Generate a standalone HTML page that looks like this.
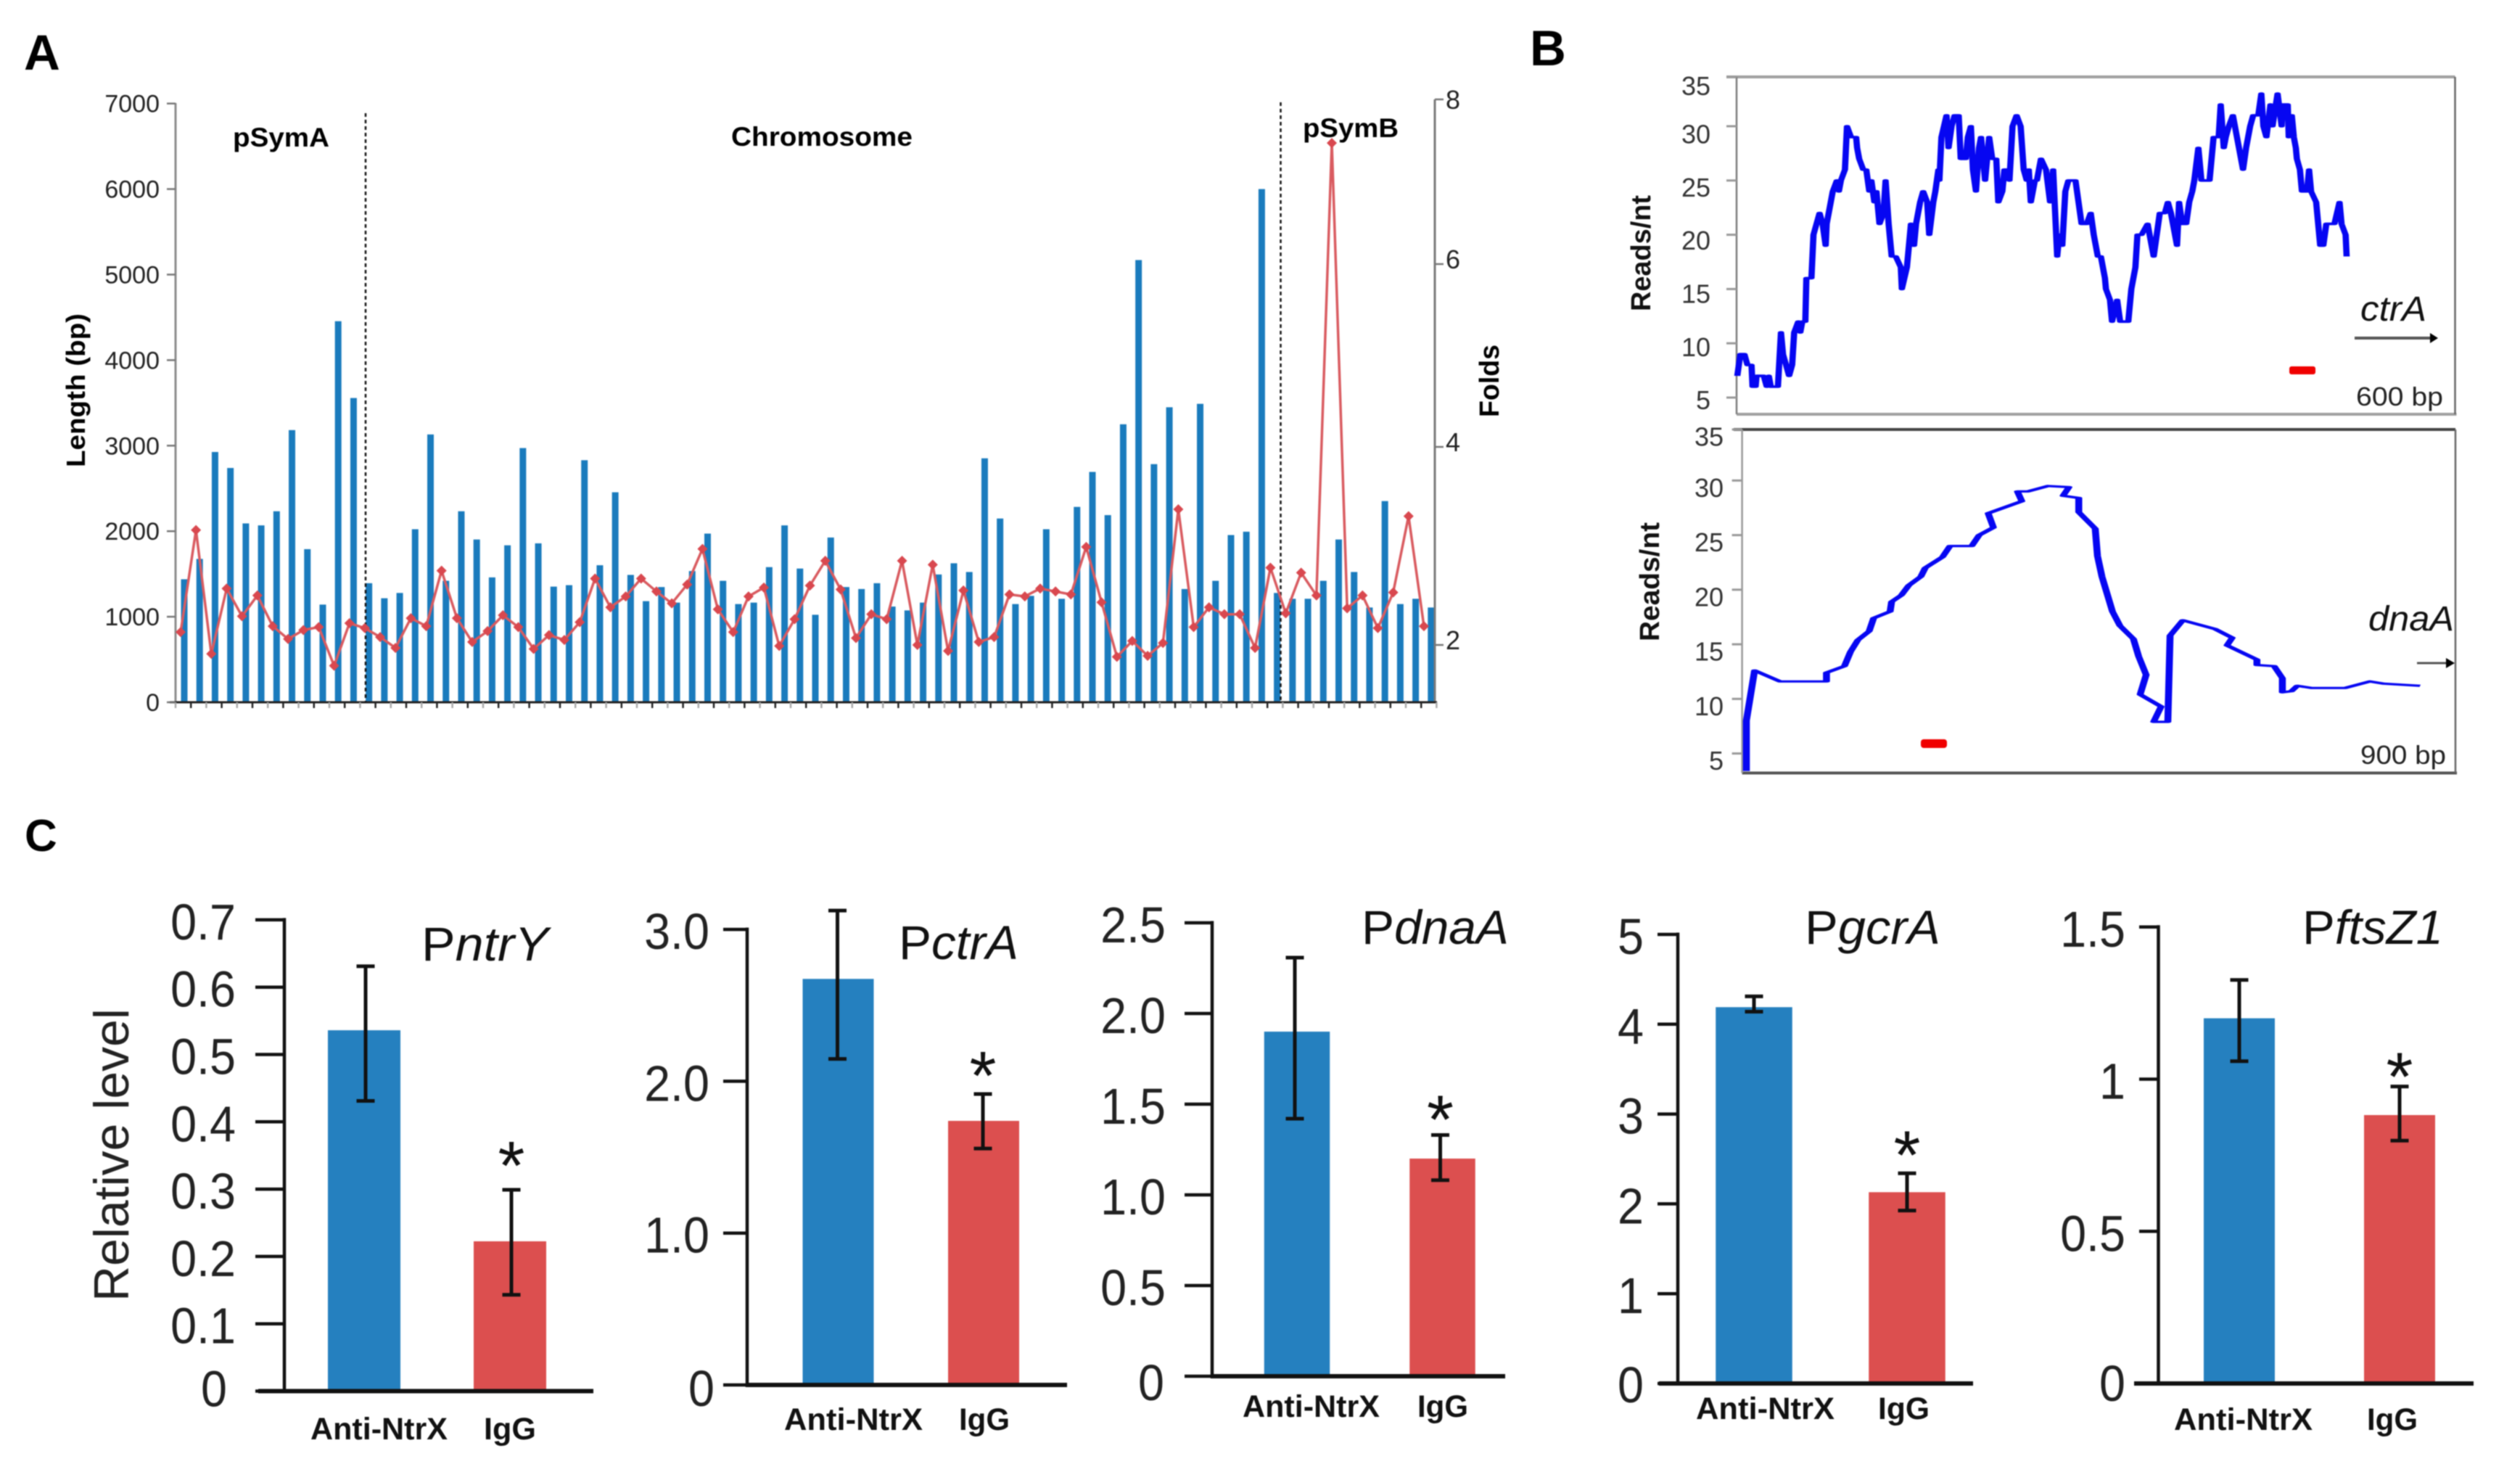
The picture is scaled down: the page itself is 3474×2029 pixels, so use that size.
<!DOCTYPE html>
<html lang="en">
<head>
<meta charset="utf-8">
<title>NtrX binding figure</title>
<style>
html,body{margin:0;padding:0;background:#fff;}
svg{display:block;font-family:"Liberation Sans",sans-serif;filter:blur(0.7px);}
</style>
</head>
<body>
<svg id="fig" width="3474" height="2029" viewBox="0 0 3474 2029">
  <rect x="0" y="0" width="3474" height="2029" fill="#fff"/>

  <!-- Panel letters -->
  <text x="33" y="96" font-size="69" font-weight="bold" fill="#000">A</text>
  <text x="2109" y="90" font-size="69" font-weight="bold" fill="#000">B</text>
  <text x="34" y="1173" font-size="62" font-weight="bold" fill="#000">C</text>

  <!-- Panel A -->
  <g id="panelA"></g>
  <text x="321" y="202" font-size="37" font-weight="bold" textLength="133" lengthAdjust="spacingAndGlyphs" fill="#000">pSymA</text>
  <text x="1008" y="201" font-size="37" font-weight="bold" textLength="250" lengthAdjust="spacingAndGlyphs" fill="#000">Chromosome</text>
  <text x="1796" y="189" font-size="37" font-weight="bold" textLength="132" lengthAdjust="spacingAndGlyphs" fill="#000">pSymB</text>
  <text transform="translate(117,644) rotate(-90)" font-size="36" font-weight="bold" textLength="212" lengthAdjust="spacingAndGlyphs" fill="#000">Length (bp)</text>
  <text transform="translate(2066,575) rotate(-90)" font-size="38" font-weight="bold" textLength="100" lengthAdjust="spacingAndGlyphs" fill="#000">Folds</text>

  <!-- Panel B -->
  <g id="panelB"></g>
  <text transform="translate(2275,429) rotate(-90)" font-size="38" font-weight="bold" textLength="160" lengthAdjust="spacingAndGlyphs" fill="#111">Reads/nt</text>
  <text transform="translate(2287,884) rotate(-90)" font-size="38" font-weight="bold" textLength="164" lengthAdjust="spacingAndGlyphs" fill="#111">Reads/nt</text>
  <text x="3254" y="442" font-size="48" font-style="italic" textLength="91" lengthAdjust="spacingAndGlyphs" fill="#111">ctrA</text>
  <text x="3265" y="869" font-size="48" font-style="italic" textLength="118" lengthAdjust="spacingAndGlyphs" fill="#111">dnaA</text>
  <text x="3248" y="559" font-size="36" textLength="120" lengthAdjust="spacingAndGlyphs" fill="#222">600 bp</text>
  <text x="3254" y="1053" font-size="36" textLength="118" lengthAdjust="spacingAndGlyphs" fill="#222">900 bp</text>
  <line x1="3246" y1="466" x2="3352" y2="466" stroke="#555" stroke-width="4"/>
  <polygon points="3350,459 3361,466 3350,473" fill="#000"/>
  <line x1="3332" y1="914" x2="3374" y2="914" stroke="#555" stroke-width="3"/>
  <polygon points="3372,907 3384,914 3372,921" fill="#000"/>
  <rect x="3156" y="505" width="36" height="11" rx="3" fill="#f00000"/>
  <rect x="2648" y="1019" width="36" height="12" rx="4" fill="#f00000"/>

  <!-- Panel C -->
  <g id="panelC"></g>
  <text transform="translate(177,1794) rotate(-90)" font-size="68" textLength="404" lengthAdjust="spacingAndGlyphs" fill="#222">Relative level</text>

  <text x="581" y="1324" font-size="66" textLength="175" lengthAdjust="spacingAndGlyphs" fill="#111">P<tspan font-style="italic">ntrY</tspan></text>
  <text x="1239" y="1322" font-size="66" textLength="165" lengthAdjust="spacingAndGlyphs" fill="#111">P<tspan font-style="italic">ctrA</tspan></text>
  <text x="1877" y="1301" font-size="66" textLength="203" lengthAdjust="spacingAndGlyphs" fill="#111">P<tspan font-style="italic">dnaA</tspan></text>
  <text x="2488" y="1301" font-size="66" textLength="187" lengthAdjust="spacingAndGlyphs" fill="#111">P<tspan font-style="italic">gcrA</tspan></text>
  <text x="3174" y="1301" font-size="66" textLength="194" lengthAdjust="spacingAndGlyphs" fill="#111">P<tspan font-style="italic">ftsZ1</tspan></text>

  <g font-size="43" font-weight="bold" fill="#111">
    <text x="428" y="1984" textLength="189" lengthAdjust="spacingAndGlyphs">Anti-NtrX</text>
    <text x="667" y="1984" textLength="72" lengthAdjust="spacingAndGlyphs">IgG</text>
    <text x="1081" y="1971" textLength="191" lengthAdjust="spacingAndGlyphs">Anti-NtrX</text>
    <text x="1322" y="1971" textLength="70" lengthAdjust="spacingAndGlyphs">IgG</text>
    <text x="1713" y="1953" textLength="189" lengthAdjust="spacingAndGlyphs">Anti-NtrX</text>
    <text x="1954" y="1953" textLength="70" lengthAdjust="spacingAndGlyphs">IgG</text>
    <text x="2338" y="1956" textLength="191" lengthAdjust="spacingAndGlyphs">Anti-NtrX</text>
    <text x="2589" y="1956" textLength="71" lengthAdjust="spacingAndGlyphs">IgG</text>
    <text x="2997" y="1971" textLength="191" lengthAdjust="spacingAndGlyphs">Anti-NtrX</text>
    <text x="3263" y="1971" textLength="70" lengthAdjust="spacingAndGlyphs">IgG</text>
  </g>
</svg>

<script>
/* ---------- Panel A data ---------- */
const lengthTicks = [0,1000,2000,3000,4000,5000,6000,7000];
const foldTicks = [2,4,6,8];
const barLengths = [1438,1676,2926,2739,2091,2068,2233,3182,1790,1142,4455,3557,1392,1216,1278,2023,3131,1420,2233,1903,1460,1835,2972,1858,1352,1369,2830,1602,2455,1489,1182,1347,1165,1534,1972,1420,1148,1165,1580,2068,1563,1023,1926,1347,1324,1392,1119,1074,1165,1494,1625,1523,2852,2148,1148,1244,2023,1210,2284,2693,2188,3250,5170,2784,3449,1324,3489,1420,1955,1994,6000,1278,1210,1210,1420,1903,1523,1108,2352,1148,1210,1108];
const foldValues = [2.13,3.16,1.91,2.57,2.29,2.50,2.19,2.06,2.15,2.18,1.79,2.22,2.17,2.08,1.97,2.27,2.19,2.75,2.27,2.03,2.14,2.30,2.18,1.96,2.10,2.05,2.23,2.67,2.38,2.49,2.67,2.54,2.42,2.61,2.97,2.36,2.13,2.49,2.58,1.99,2.26,2.60,2.85,2.56,2.07,2.31,2.26,2.85,2.00,2.81,1.94,2.55,2.03,2.08,2.51,2.49,2.57,2.54,2.51,2.99,2.43,1.88,2.04,1.89,2.02,3.37,2.18,2.38,2.31,2.31,1.97,2.78,2.32,2.73,2.50,7.47,2.37,2.50,2.17,2.53,3.30,2.19];

/* ---------- Panel B data ---------- */
const readTicks = [5,10,15,20,25,30,35];
const ctrAPositions = [0,3,7,10,14,15,18,19,26,29,31,33,40,43,45,48,51,54,56,60,62,64,67,68,73,75,81,84,87,88,92,94,98,100,102,106,108,112,117,118,120,124,127,130,132,135,137,140,144,146,149,152,156,161,162,167,171,174,176,180,183,187,189,193,195,198,199,201,206,208,211,214,218,220,225,227,230,232,235,238,240,244,248,251,255,257,261,263,266,268,271,275,279,282,285,287,289,293,295,299,304,308,311,313,315,317,320,323,326,333,336,339,344,348,351,355,358,362,363,367,369,374,377,385,388,392,394,398,404,406,410,413,416,418,421,424,427,433,435,438,442,445,448,450,454,457,465,469,474,476,479,481,484,488,492,494,498,501,505,508,513,516,518,521,525,527,532,536,537,542,543,546,548,550,551,554,556,561,563,565,570,574,577,580,588,593,595,599,600];
const ctrAReads = [7,9,9,8,8,6,6,7,7,6,7,6,6,11,9,8,7,8,11,12,11,12,12,16,16,20,22,21,19,21,23,24,25,24,25,26,30,29,29,28,27,26,26,24,25,23,24,21,22,25,21,18,18,17,15,17,21,19,21,23,24,23,20,23,24,26,25,29,31,28,30,31,31,27,27,29,30,26,24,28,29,25,29,27,27,23,24,26,26,25,30,31,30,26,25,26,23,25,25,27,26,23,26,22,18,20,19,24,25,25,23,21,21,22,20,18,18,16,15,14,12,14,12,12,15,17,20,20,21,20,18,20,22,22,22,23,22,19,23,21,21,23,24,25,28,25,25,29,29,32,28,29,30,31,29,28,26,28,30,31,31,33,30,29,32,30,33,30,32,32,29,31,29,28,27,26,24,24,26,24,23,19,19,21,21,23,21,20,18];
const dnaAPositions = [0,0,11,45,107,107,131,139,149,164,170,192,194,207,217,233,239,262,272,301,311,330,323,368,362,376,403,431,423,444,444,466,469,475,489,499,517,524,534,526,554,544,563,566,583,626,649,642,682,682,705,716,716,728,736,755,800,833,851,900];
const dnaAReads = [3.4,8.0,12.6,11.6,11.6,12.4,13.0,14.3,15.4,16.2,17.4,18.0,18.9,19.5,20.4,21.2,22.0,23.0,24.0,24.0,25.0,25.7,27.0,28.1,29.0,29.0,29.5,29.4,28.6,28.4,27.1,25.6,23.1,21.2,18.0,16.7,15.5,13.9,12.2,10.4,9.3,7.9,7.9,15.8,17.2,16.4,15.6,14.9,13.6,13.1,13.0,11.9,10.6,10.7,11.2,11.0,11.0,11.6,11.4,11.2];

/* ---------- Panel C data ---------- */
const ntrYTickValues = [0,0.1,0.2,0.3,0.4,0.5,0.6,0.7];
const ntrYTickLabels = ['0','0.1','0.2','0.3','0.4','0.5','0.6','0.7'];
const ntrYMeans = [0.536,0.2225];
const ntrYUpper = [0.631,0.299];
const ntrYLower = [0.431,0.143];

const ctrATickValues = [0,1,2,3];
const ctrATickLabels = ['0','1.0','2.0','3.0'];
const ctrAMeans = [2.674,1.739];
const ctrAUpper = [3.124,1.916];
const ctrALower = [2.147,1.557];

const dnaATickValues = [0,0.5,1,1.5,2,2.5];
const dnaATickLabels = ['0','0.5','1.0','1.5','2.0','2.5'];
const dnaAMeans = [1.90,1.20];
const dnaAUpper = [2.308,1.33];
const dnaALower = [1.42,1.081];

const gcrATickValues = [0,1,2,3,4,5];
const gcrATickLabels = ['0','1','2','3','4','5'];
const gcrAMeans = [4.19,2.13];
const gcrAUpper = [4.31,2.34];
const gcrALower = [4.14,1.925];

const ftsZ1TickValues = [0,0.5,1,1.5];
const ftsZ1TickLabels = ['0','0.5','1','1.5'];
const ftsZ1Means = [1.20,0.882];
const ftsZ1Upper = [1.326,0.976];
const ftsZ1Lower = [1.059,0.798];

/* ---------- Helpers ---------- */
const SVGNS = document.getElementById('fig').namespaceURI;
function mk(tag, attrs, parent){
  const el = document.createElementNS(SVGNS, tag);
  for (const k in attrs) el.setAttribute(k, attrs[k]);
  parent.appendChild(el);
  return el;
}

/* ---------- Panel A ---------- */
(function(){
  const g = document.getElementById('panelA');
  const base = 968, axisL = 242, axisR = 1978;
  const lenY = v => base - v * 0.1179;
  const foldY = v => {
    const t = [[2,889],[4,616],[6,364],[8,137]];
    let i = v < 4 ? 0 : v < 6 ? 1 : 2;
    return t[i][1] + (v - t[i][0]) * (t[i+1][1] - t[i][1]) / (t[i+1][0] - t[i][0]);
  };
  const pointX = i => 249 + 21.16 * i;
  const barX = i => 254 + 21.22 * i;

  barLengths.forEach((v, i) => {
    const el = mk('rect', {x: barX(i) - 4.5, y: lenY(v), width: 9, height: base - lenY(v), fill: '#1a7bbd'}, g);
    
    
  });

  let el = mk('line', {x1: axisL, y1: 142, x2: axisL, y2: base, stroke: '#8c8c8c', 'stroke-width': 3}, g);
  
  
  el = mk('line', {x1: axisR, y1: 137, x2: axisR, y2: base, stroke: '#7a7a7a', 'stroke-width': 3}, g);
  
  
  el = mk('line', {x1: axisL - 8, y1: base, x2: axisR + 3, y2: base, stroke: '#222', 'stroke-width': 3}, g);
  
  

  barLengths.concat([0]).forEach((v, k) => {
    const x = axisL + 21.2 * k;
    const t = mk('line', {x1: x, y1: base, x2: x, y2: base + 8, stroke: k % 2 ? '#222' : '#aaa', 'stroke-width': 2.5}, g);
    
    
  });

  lengthTicks.forEach(v => {
    const t = mk('line', {x1: axisL - 12, y1: lenY(v), x2: axisL, y2: lenY(v), stroke: '#777', 'stroke-width': 2.5}, g);
    
    
    const l = mk('text', {x: 220, y: lenY(v) + 12, 'font-size': 34, 'text-anchor': 'end', fill: '#222'}, g);
    l.textContent = String(v);
    
    
  });

  foldTicks.forEach(v => {
    const t = mk('line', {x1: axisR, y1: foldY(v), x2: axisR + 12, y2: foldY(v), stroke: '#777', 'stroke-width': 2.5}, g);
    
    
    const l = mk('text', {x: 1993, y: foldY(v) + (v === 8 ? 13 : 6), 'font-size': 36, fill: '#222'}, g);
    l.textContent = String(v);
    
    
  });

  el = mk('line', {x1: 504, y1: 156, x2: 504, y2: base, stroke: '#111', 'stroke-width': 2.5, 'stroke-dasharray': '5 4'}, g);
  
  
  el = mk('line', {x1: 1765.5, y1: 141, x2: 1765.5, y2: base, stroke: '#111', 'stroke-width': 2.5, 'stroke-dasharray': '5 4'}, g);
  
  

  const pts = foldValues.map((v, i) => pointX(i).toFixed(1) + ',' + foldY(v).toFixed(1)).join(' ');
  el = mk('polyline', {points: pts, fill: 'none', stroke: '#d95b60', 'stroke-width': 3.5, 'stroke-linejoin': 'round'}, g);
  
  
  foldValues.forEach((v, i) => {
    const x = pointX(i), y = foldY(v), r = 7;
    const m = mk('polygon', {points: `${x-r},${y} ${x},${y-r} ${x+r},${y} ${x},${y+r}`, fill: '#d9484f'}, g);
    
    
  });
})();

/* ---------- Panel B ---------- */
function drawCoverage(opts, positions, reads, parentId){
  const g = document.getElementById(parentId);
  const yOf = v => opts.y5 - (v - 5) * opts.perRead;
  const xOf = p => opts.x0 + p * opts.perBp;
  const k = opts.stretch;
  let el = mk('line', {x1: opts.topFrom, y1: opts.top, x2: opts.right, y2: opts.top, stroke: opts.topColor, 'stroke-width': 4}, g);
  
  
  el = mk('line', {x1: opts.left, y1: opts.bottom, x2: opts.right + 2, y2: opts.bottom, stroke: opts.bottomColor, 'stroke-width': 4}, g);
  
  
  el = mk('line', {x1: opts.left, y1: opts.top, x2: opts.left, y2: opts.bottom, stroke: opts.leftColor, 'stroke-width': 2.5}, g);
  
  
  el = mk('line', {x1: opts.right, y1: opts.top, x2: opts.right, y2: opts.bottom, stroke: '#666', 'stroke-width': 2.5}, g);
  
  

  readTicks.forEach(v => {
    const y = Math.max(opts.top, yOf(v));
    const t = mk('line', {x1: opts.left - 14, y1: y, x2: opts.left, y2: y, stroke: '#999', 'stroke-width': 3}, g);
    
    
    const dy = opts.labelDy + (v - 5) * opts.labelSlope;
    const l = mk('text', {x: opts.labelRight, y: y + dy + 12.5, 'font-size': 36, 'text-anchor': 'end', fill: '#333'}, g);
    l.textContent = String(v);
    
    
  });

  const d = positions.map((p, i) => (i ? 'L' : 'M') + ((xOf(p) - opts.x0) / k).toFixed(2) + ' ' + yOf(reads[i]).toFixed(1)).join('');
  const wrap = mk('g', {transform: `translate(${opts.x0},0) scale(${k},1)`}, g);
  
  
  const p = mk('path', {d: d, fill: 'none', stroke: '#0606f2', 'stroke-width': opts.stroke, 'stroke-linejoin': 'round'}, wrap);
  
  
}

drawCoverage({name:'ctra', x0:2395, perBp:1.4, y5:548, perRead:14.96, left:2394, right:3384.5, top:106, bottom:571, topFrom:2380, topColor:'#a0a0a0', bottomColor:'#a0a0a0', leftColor:'#7c7c7c', labelRight:2358, labelDy:3.6, labelSlope:0.3, stretch:2.4, stroke:3.6}, ctrAPositions, ctrAReads, 'panelB');
drawCoverage({name:'dnaa', x0:2407.5, perBp:1.032, y5:1038.6, perRead:15.05, left:2401.6, right:3385, top:592, bottom:1065.5, topFrom:2390, topColor:'#444', bottomColor:'#555', leftColor:'#999', labelRight:2376, labelDy:10, labelSlope:0, stretch:3, stroke:3.2}, dnaAPositions, dnaAReads, 'panelB');

/* ---------- Panel C ---------- */
function drawQpcr(o, tickValues, tickLabels, means, upper, lower){
  const g = document.getElementById('panelC');
  const yOf = v => o.y0 - v * o.perUnit;
  const barColors = ['#2580bf', '#dc4f4f'];
  means.forEach((m, i) => {
    const cx = o.c0 + o.step * i;
    const b = mk('rect', {x: cx - o.w / 2, y: yOf(m), width: o.w, height: o.y0 - yOf(m), fill: barColors[i]}, g);
    
    
  });
  let el = mk('line', {x1: o.axisX, y1: yOf(tickValues[tickValues.length - 1]) - 2.5, x2: o.axisX, y2: o.y0 + 3, stroke: '#111', 'stroke-width': 4.5}, g);
  
  
  el = mk('line', {x1: o.xStart, y1: o.y0, x2: o.xEnd, y2: o.y0, stroke: '#111', 'stroke-width': 6}, g);
  
  
  tickValues.forEach((v, i) => {
    const y = yOf(v);
    const t = mk('line', {x1: o.tickLeft, y1: y, x2: o.axisX, y2: y, stroke: '#111', 'stroke-width': 4.5}, g);
    
    
    const isZero = v === 0;
    const lx = isZero ? o.zeroRight : o.labelRight;
    const ly = y + (isZero ? o.zeroDy : 3) + 24;
    const l = mk('text', {transform: `translate(${lx},${ly}) scale(0.98,1.05)`, 'font-size': 66, 'text-anchor': 'end', fill: '#222'}, g);
    l.textContent = tickLabels[i];
    
    
  });
  means.forEach((m, i) => {
    const cx = o.c0 + o.step * i + o.errDx;
    const v = mk('line', {x1: cx, y1: yOf(upper[i]), x2: cx, y2: yOf(lower[i]), stroke: '#111', 'stroke-width': 5}, g);
    
    
    const c1 = mk('line', {x1: cx - 12.5, y1: yOf(upper[i]), x2: cx + 12.5, y2: yOf(upper[i]), stroke: '#111', 'stroke-width': 5}, g);
    
    
    const c2 = mk('line', {x1: cx - 12.5, y1: yOf(lower[i]), x2: cx + 12.5, y2: yOf(lower[i]), stroke: '#111', 'stroke-width': 5}, g);
    
    
  });
  const sx = o.c0 + o.step + o.errDx;
  const star = mk('text', {x: sx, y: yOf(upper[1]) - o.starGap + 65, 'font-size': 95, 'text-anchor': 'middle', fill: '#111'}, g);
  star.textContent = '*';
  
  
}

drawQpcr({name:'pntry', axisX:392, y0:1917.5, perUnit:928, tickLeft:352, xStart:356, xEnd:818, c0:502, step:201, w:100, errDx:2, labelRight:325, zeroRight:313, zeroDy:-3, starGap:66}, ntrYTickValues, ntrYTickLabels, ntrYMeans, ntrYUpper, ntrYLower);
drawQpcr({name:'pctra', axisX:1030, y0:1909, perUnit:209.3, tickLeft:997, xStart:1030, xEnd:1471, c0:1155.5, step:200.5, w:98, errDx:-1, labelRight:978, zeroRight:985, zeroDy:5, starGap:58}, ctrATickValues, ctrATickLabels, ctrAMeans, ctrAUpper, ctrALower);
drawQpcr({name:'pdnaa', axisX:1671, y0:1897, perUnit:250, tickLeft:1633, xStart:1671, xEnd:2075, c0:1788, step:200.5, w:90.5, errDx:-3, labelRight:1607, zeroRight:1605, zeroDy:9, starGap:54}, dnaATickValues, dnaATickLabels, dnaAMeans, dnaAUpper, dnaALower);
drawQpcr({name:'pgcra', axisX:2313, y0:1907, perUnit:123.8, tickLeft:2285, xStart:2287, xEnd:2720, c0:2418, step:211, w:105.5, errDx:0, labelRight:2266, zeroRight:2266, zeroDy:2, starGap:58}, gcrATickValues, gcrATickLabels, gcrAMeans, gcrAUpper, gcrALower);
drawQpcr({name:'pftsz1', axisX:2975.5, y0:1907, perUnit:419.5, tickLeft:2949, xStart:2942, xEnd:3410, c0:3087, step:221, w:98, errDx:0, labelRight:2930, zeroRight:2930, zeroDy:0, starGap:46}, ftsZ1TickValues, ftsZ1TickLabels, ftsZ1Means, ftsZ1Upper, ftsZ1Lower);
</script>
</body>
</html>
